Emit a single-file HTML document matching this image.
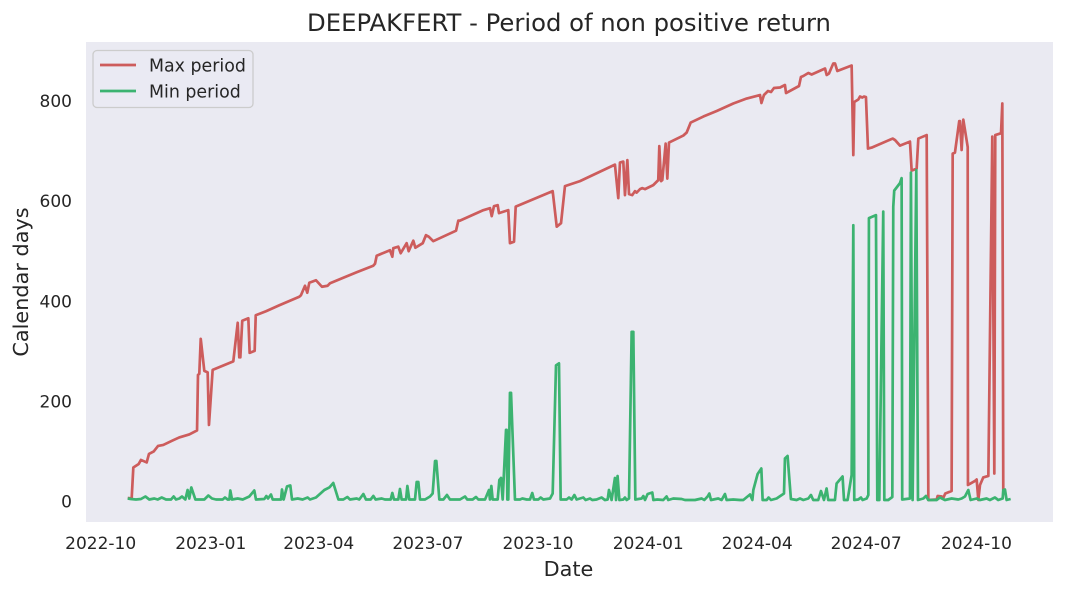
<!DOCTYPE html>
<html>
<head>
<meta charset="utf-8">
<style>
html,body{margin:0;padding:0;background:#fff;width:1065px;height:592px;overflow:hidden}
svg{display:block}
text{font-family:"DejaVu Sans","Liberation Sans",sans-serif;fill:#262626}
</style>
</head>
<body>
<svg id="chart" width="1065" height="592" viewBox="0 0 1065 592" xmlns="http://www.w3.org/2000/svg">
<rect x="86" y="42" width="967" height="480" fill="#eaeaf2"/>
<g id="marks"></g>
<g id="ticks"></g>
<text x="569" y="31" font-size="24.3" text-anchor="middle">DEEPAKFERT - Period of non positive return</text>
<text x="568.5" y="576" font-size="20.8" text-anchor="middle">Date</text>
<text transform="translate(28,282) rotate(-90)" font-size="20.8" text-anchor="middle">Calendar days</text>
<g>
<rect x="93" y="50.5" width="160" height="57" rx="4" fill="#eaeaf2" fill-opacity="0.8" stroke="#cccccc" stroke-width="1.3"/>
<line x1="100" x2="136" y1="65" y2="65" stroke="#cd5c5c" stroke-width="2.7"/>
<text x="149" y="71.5" font-size="17.4">Max period</text>
<line x1="100" x2="136" y1="91" y2="91" stroke="#3cb371" stroke-width="2.7"/>
<text x="149" y="97.5" font-size="17.4">Min period</text>
</g>
</svg>
<script>
const xTickLabels = ["2022-10","2023-01","2023-04","2023-07","2023-10","2024-01","2024-04","2024-07","2024-10"];
const xTickDays = [-0.3,92,182.5,274,366.3,458.7,550,641.4,733.8];
const yTickValues = [0,200,400,600,800];

const maxDays = [22.4,25.7,27.1,31.6,33.5,38.3,40.2,44.2,47.8,52.2,60.1,65.6,74,80.5,81.3,82.4,83.6,86.6,89.4,90.5,93.6,110.9,114.6,115.9,116.8,118.4,123.5,124.6,128.8,129.7,138.3,149.5,166.2,167.6,171,172.9,174.6,180.2,185.2,190,192,203.1,214.3,228.2,229.7,231.1,242.2,244.2,245,249.2,251.2,256.2,257.9,261.8,263.5,269.7,272.4,274.7,278.5,297.6,299.5,300.9,320.5,326.1,327.5,329.4,332.5,333.6,341.4,342.8,346.2,347.6,378.6,382,385.6,388.9,401.5,430.8,433.6,435,437.8,439.2,441.2,442.6,445.3,447.6,449,451.8,453.7,456,462.9,467.1,468,469.4,470.5,473.3,474.7,476.1,488.1,490.9,494.3,504.9,516.1,530,541.2,552.4,553.6,555.7,559.1,561.6,564.1,569.2,573.3,574.2,585.1,586.7,588.7,592.9,595.7,606.9,608.3,610.2,613.8,615.3,617.2,629.2,630.6,631.4,634.8,636.2,638.1,639.6,641.2,642.9,646,663.6,665.6,669.7,678.1,679.5,683.7,685.1,692.1,693.5,700.5,701.3,704.7,706,707.7,713,713.9,715.8,719.4,720,721.4,722.8,726.5,726.7,732.6,734,735.4,736.8,739.5,743.8,747.1,748.8,749.6,753.6,754.4,755.5,756.3];
const maxValues = [7,6,68,75,83,78,95,100,111,113,122,128,134,142,253,255,325,261,258,153,263,280,357,288,288,361,366,297,301,372,380,392,409,412,431,417,437,442,429,431,436,447,458,471,475,491,502,489,506,509,496,516,500,521,507,516,532,529,520,541,561,561,582,586,570,590,592,576,582,516,519,589,620,549,556,630,640,673,606,677,679,612,682,614,612,620,617,624,626,624,632,642,710,640,642,715,645,717,731,737,757,769,780,795,805,812,796,812,820,818,826,827,832,816,830,848,850,856,853,865,852,855,875,875,860,871,692,798,803,809,807,809,808,705,707,725,722,711,719,661,665,725,732,3,4,11,10,7,16,21,695,697,760,760,702,763,708,33,41,44,3,33,48,51,729,56,732,735,735,795,23];

const minDays = [
22.4,25.1,29.3,33.5,37.2,40.5,44.7,47.5,50.9,54.5,58.7,60.9,62.9,65.7,67.9,70.7,72.6,74,75.7,77.4,
79.1,86.6,90,93,96.4,102,103.9,106.2,107.6,108.4,109.8,114.6,118.8,124.3,128.5,129.9,136.9,138.6,140,142.5,
143.9,150.9,151.7,153.1,155.9,158.7,160.1,164.9,169,173.2,175.2,180.2,187.2,191.4,194.7,199,203.1,206.5,208.7,214.3,
216.5,219.9,222.1,226,228.3,230.2,235.3,238,242.8,244.2,245.6,249.2,250.6,252,255.7,256.8,258.4,263.2,264.6,266,
267.4,271.6,275.8,278,280,281.1,283.6,287,290,292.5,300.9,305.1,307,311.5,314.3,316.3,321.9,325.2,326,327.2,
328.3,332.5,333.9,335.3,336.7,339.5,340,340.6,341.4,342.8,343.7,347,351.2,353.2,356.8,359.6,361.5,362.9,366.6,368.5,
370.8,376.4,378.6,381.4,383.9,385.3,390.3,392.3,394.5,396.8,398.7,404.3,406.2,409.9,411.8,415.4,419.6,422.4,424.7,425.8,
428,430.8,431.7,433,434.5,437.8,439.2,440.6,442.6,444.8,446.2,447.9,453.2,454.6,456,458.2,462.1,463,466.3,471.3,
474.1,475.5,479.7,486.7,489.5,497.9,503.5,505.7,508.5,509.9,511.3,517.4,520.2,523,524.4,530,535.6,538.4,544,546,
546.8,550.4,553.5,554.6,558,559.6,561.6,566.3,572.5,573.3,575.5,578.3,583.1,585.9,588.7,592.9,595.1,597,601.2,603.5,
606,608.2,609.6,615.2,616.6,621.6,622.8,625.8,629.2,630.6,631.4,634.8,637,638.4,641.8,643.2,643.7,649.6,650.7,652.4,
655.7,656.6,659.9,663.3,664.1,664.9,669.7,671.1,671.6,678.1,678.9,680.3,683.4,684.8,689.3,691.5,693.4,700.4,703.2,707.4,
713,718.6,721.4,724.2,727,728.9,734,736.7,742.3,745.1,749.3,752.1,755.8,756.3,757.7,759.1,762.5];
const minValues = [
6,5,4,5,10,4,6,4,8,4,4,10,4,6,10,4,23,6,28,16,
4,4,12,6,4,4,8,4,4,22,4,6,4,10,22,4,5,11,6,14,
4,4,24,4,30,32,4,6,4,8,4,8,23,28,37,4,4,9,4,6,
4,15,4,4,11,4,6,4,4,17,4,4,25,4,4,31,4,4,39,39,
4,4,10,16,81,81,4,4,13,4,4,10,4,4,9,4,4,23,4,31,
4,4,43,47,4,143,143,4,4,217,217,4,4,6,4,4,17,4,4,8,
4,6,16,272,276,4,4,8,4,13,4,8,3,6,3,4,8,3,4,23,
3,47,3,51,3,4,8,3,6,339,339,4,6,11,3,15,18,3,4,3,
10,3,6,5,3,3,6,3,10,16,3,6,3,15,3,4,3,3,14,3,
23,55,66,3,3,8,3,6,16,86,91,5,3,6,3,6,13,3,3,21,
3,26,3,3,36,50,3,3,53,552,3,4,8,3,6,13,566,572,3,3,
579,3,3,9,589,621,636,646,4,6,657,3,662,3,6,11,3,3,8,3,
6,4,6,10,23,3,6,3,6,3,8,3,6,23,24,3,5];

const xScale = d => 101 + 1.193 * d;
const yScale = v => 501.5 - 0.5006 * v;
const NS = "http://www.w3.org/2000/svg";
const marks = document.getElementById("marks");
const ticks = document.getElementById("ticks");

function drawLine(days, values, color) {
  const line = document.createElementNS(NS, "polyline");
  const n = Math.min(days.length, values.length);
  const pts = [];
  for (let i = 0; i < n; i++) pts.push(xScale(days[i]).toFixed(2) + "," + yScale(values[i]).toFixed(2));
  line.setAttribute("points", pts.join(" "));
  line.setAttribute("fill", "none");
  line.setAttribute("stroke", color);
  line.setAttribute("stroke-width", "2.7");
  line.setAttribute("stroke-linejoin", "round");
  marks.appendChild(line);
  return line;
}
const maxLine = drawLine(maxDays, maxValues, "#cd5c5c");


const minLine = drawLine(minDays, minValues, "#3cb371");



xTickLabels.forEach((label, i) => {
  const t = document.createElementNS(NS, "text");
  
  
  t.setAttribute("x", xScale(xTickDays[i]));
  t.setAttribute("y", 549);
  t.setAttribute("font-size", "17");
  t.setAttribute("text-anchor", "middle");
  t.textContent = label;
  ticks.appendChild(t);
});
yTickValues.forEach(v => {
  const t = document.createElementNS(NS, "text");
  
  
  t.setAttribute("x", 72);
  t.setAttribute("y", yScale(v) + 6);
  t.setAttribute("font-size", "17");
  t.setAttribute("text-anchor", "end");
  t.textContent = v;
  ticks.appendChild(t);
});
</script>
</body>
</html>
